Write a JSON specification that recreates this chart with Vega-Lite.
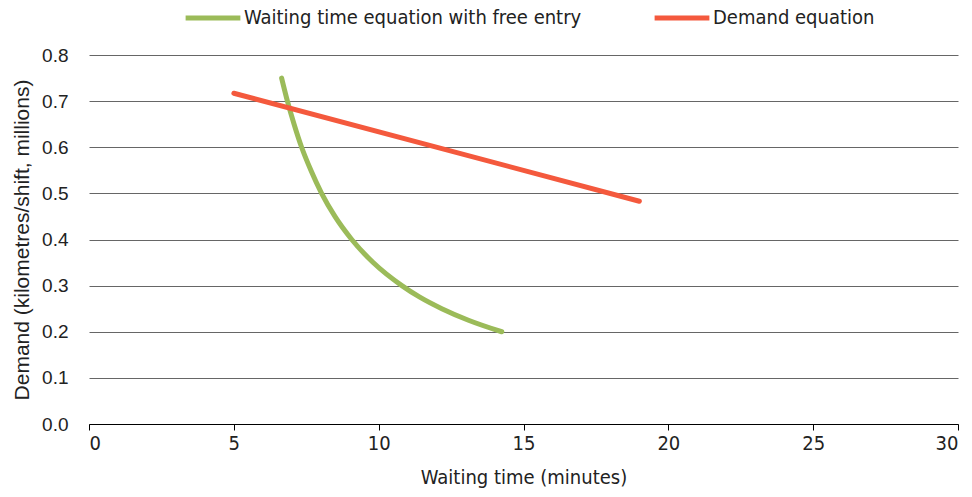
{
  "$schema": "https://vega.github.io/schema/vega-lite/v6.json",
  "width": 869,
  "height": 369,
  "autosize": {"type": "none"},
  "padding": {"left": 89, "top": 55, "right": 14, "bottom": 73},
  "background": "white",
  "config": {"view": {"stroke": null}},
  "data": {"values": [
    {"series": "Waiting time equation with free entry", "wait": 6.65, "demand": 0.75},
    {"series": "Waiting time equation with free entry", "wait": 6.85, "demand": 0.70},
    {"series": "Waiting time equation with free entry", "wait": 7.08, "demand": 0.65},
    {"series": "Waiting time equation with free entry", "wait": 7.34, "demand": 0.60},
    {"series": "Waiting time equation with free entry", "wait": 7.66, "demand": 0.55},
    {"series": "Waiting time equation with free entry", "wait": 8.03, "demand": 0.50},
    {"series": "Waiting time equation with free entry", "wait": 8.49, "demand": 0.45},
    {"series": "Waiting time equation with free entry", "wait": 9.07, "demand": 0.40},
    {"series": "Waiting time equation with free entry", "wait": 9.81, "demand": 0.35},
    {"series": "Waiting time equation with free entry", "wait": 10.80, "demand": 0.30},
    {"series": "Waiting time equation with free entry", "wait": 11.42, "demand": 0.275},
    {"series": "Waiting time equation with free entry", "wait": 12.18, "demand": 0.25},
    {"series": "Waiting time equation with free entry", "wait": 13.10, "demand": 0.225},
    {"series": "Waiting time equation with free entry", "wait": 14.25, "demand": 0.20},
    {"series": "Demand equation", "wait": 5.0, "demand": 0.717},
    {"series": "Demand equation", "wait": 19.0, "demand": 0.483}
  ]},
  "mark": {"type": "line", "strokeWidth": 5, "strokeCap": "round", "interpolate": "monotone", "clip": false},
  "encoding": {
    "x": {
      "field": "wait", "type": "quantitative",
      "scale": {"domain": [0, 30], "nice": false},
      "axis": {
        "title": "Waiting time (minutes)", "values": [0, 5, 10, 15, 20, 25, 30],
        "grid": false, "domainColor": "#000", "tickColor": "#000", "tickSize": 6,
        "labelFont": "DejaVu Sans Condensed", "labelFontSize": 20, "labelColor": "#222",
        "labelPadding": 3,
        "titleFont": "DejaVu Sans Condensed", "titleFontSize": 20, "titleFontWeight": "normal",
        "titleColor": "#222", "titlePadding": 14
      }
    },
    "y": {
      "field": "demand", "type": "quantitative",
      "scale": {"domain": [0, 0.8], "nice": false},
      "axis": {
        "title": "Demand (kilometres/shift, millions)", "values": [0, 0.1, 0.2, 0.3, 0.4, 0.5, 0.6, 0.7, 0.8],
        "format": ".1f", "domain": false, "ticks": false,
        "grid": true, "gridColor": "#666", "gridWidth": 1,
        "labelFont": "Liberation Sans", "labelFontSize": 19, "labelColor": "#222", "labelPadding": 21,
        "titleFont": "Liberation Sans", "titleFontSize": 21, "titleFontWeight": "normal",
        "titleColor": "#222", "titlePadding": 9
      }
    },
    "color": {
      "field": "series", "type": "nominal",
      "scale": {
        "domain": ["Waiting time equation with free entry", "Demand equation"],
        "range": ["#9BBB59", "#F4593D"]
      },
      "legend": {
        "title": null, "orient": "none", "legendX": 94, "legendY": -67,
        "direction": "horizontal", "symbolType": "stroke", "symbolStrokeWidth": 5,
        "symbolSize": 3000, "columnPadding": 62, "labelOffset": 1, "labelLimit": 600,
        "labelFont": "DejaVu Sans Condensed", "labelFontSize": 20, "labelColor": "#222"
      }
    }
  }
}
